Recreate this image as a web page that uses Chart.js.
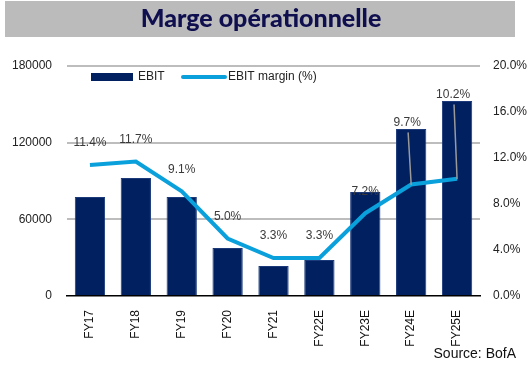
<!DOCTYPE html>
<html>
<head>
<meta charset="utf-8">
<script src="https://cdn.jsdelivr.net/npm/chart.js@4.4.0/dist/chart.umd.min.js"></script>
<style>
  html, body { margin: 0; padding: 0; background: #fff; }
  #wrap { width: 530px; height: 367px; position: relative; }
</style>
</head>
<body>
<div id="wrap"><canvas id="chart"></canvas></div>
<script>
const categories = ['FY17', 'FY18', 'FY19', 'FY20', 'FY21', 'FY22E', 'FY23E', 'FY24E', 'FY25E'];
const ebit = [77500, 92300, 77500, 37600, 23500, 28200, 81400, 130700, 152600];
const ebitMargin = [11.4, 11.7, 9.1, 5.0, 3.3, 3.3, 7.2, 9.7, 10.2];
const leftTicks = [0, 60000, 120000, 180000];
const rightTicks = [0, 4, 8, 12, 16, 20];

const NAVY = '#002060';
const CYAN = '#0aa0dc';

// title band, legend, data labels and source
const decorations = {
  id: 'decorations',
  beforeDraw(chart) {
    const ctx = chart.ctx;
    ctx.save();
    ctx.fillStyle = '#bbbbbb';
    ctx.fillRect(5, 1, 510, 36);
    ctx.fillStyle = '#0f0f4f';
    ctx.font = '900 25px Lato';
    ctx.textAlign = 'center';
    ctx.textBaseline = 'middle';
    ctx.fillText('Marge opérationnelle', 261, 19);
    ctx.restore();
  },
  afterDraw(chart) {
    const ctx = chart.ctx;
    ctx.save();

    // legend
    ctx.fillStyle = NAVY;
    ctx.fillRect(91, 73, 42, 8);
    ctx.strokeStyle = CYAN;
    ctx.lineWidth = 4;
    ctx.lineCap = 'round';
    ctx.beginPath();
    ctx.moveTo(183, 77);
    ctx.lineTo(225, 77);
    ctx.stroke();
    ctx.fillStyle = '#222';
    ctx.font = '12px "Liberation Sans"';
    ctx.textBaseline = 'middle';
    ctx.textAlign = 'left';
    ctx.fillText('EBIT', 138, 77);
    ctx.fillText('EBIT margin (%)', 228, 77);

    // data labels
    const barMeta = chart.getDatasetMeta(0);
    const lineMeta = chart.getDatasetMeta(1);
    ctx.textAlign = 'center';
    ctx.fillStyle = '#3a3a3a';
    lineMeta.data.forEach((pt, i) => {
      const barTop = barMeta.data[i].y;
      let ly = pt.y - 22;
      if (ly > barTop + 4) {
        ly = barTop - 6;
        ctx.strokeStyle = '#9a9a9a';
        ctx.lineWidth = 1.5;
        ctx.beginPath();
        ctx.moveTo(pt.x - 3, ly + 10);
        ctx.lineTo(pt.x, pt.y);
        ctx.stroke();
        ctx.fillText(ebitMargin[i].toFixed(1) + '%', pt.x - 4, ly);
      } else {
        ctx.fillText(ebitMargin[i].toFixed(1) + '%', pt.x, ly);
      }
    });

    // source
    ctx.fillStyle = '#111';
    ctx.font = '14px "Liberation Sans Narrow", "Liberation Sans"';
    ctx.textAlign = 'right';
    ctx.fillText('Source: BofA', 516, 354);
    ctx.restore();
  }
};

new Chart(document.getElementById('chart'), {
  data: {
    labels: categories,
    datasets: [
      {
        type: 'bar',
        label: 'EBIT',
        data: ebit,
        yAxisID: 'y',
        backgroundColor: NAVY,
        borderColor: '#1c3a7a',
        borderWidth: 1,
        barPercentage: 0.66,
        categoryPercentage: 1,
        order: 2
      },
      {
        type: 'line',
        label: 'EBIT margin (%)',
        data: ebitMargin,
        yAxisID: 'y1',
        borderColor: CYAN,
        borderWidth: 4,
        pointRadius: 0,
        tension: 0,
        fill: false,
        order: 1
      }
    ]
  },
  options: {
    responsive: true,
    maintainAspectRatio: false,
    animation: false,
    layout: { padding: { top: 66, left: 0, right: 0, bottom: 0 } },
    plugins: {
      legend: { display: false },
      tooltip: { enabled: false }
    },
    scales: {
      x: {
        grid: { display: false },
        border: { color: '#000', width: 1.5 },
        ticks: {
          color: '#111',
          font: { family: '"Liberation Sans Narrow", "Liberation Sans"', size: 12 },
          minRotation: 90,
          maxRotation: 90,
          padding: 6
        },
        afterFit: (s) => { s.height = 71; }
      },
      y: {
        position: 'left',
        min: 0,
        max: 180000,
        afterBuildTicks: (s) => { s.ticks = leftTicks.map(v => ({ value: v })); },
        border: { display: false },
        grid: {
          drawTicks: false,
          lineWidth: 2,
          color: (c) => c.tick && c.tick.value === 0 ? 'rgba(0,0,0,0)' : '#bdbdbd'
        },
        ticks: {
          color: '#222',
          padding: 15,
          font: { family: '"Liberation Sans"', size: 12 },
          callback: (v) => String(v)
        },
        afterFit: (s) => { s.width = 67; }
      },
      y1: {
        position: 'right',
        min: 0,
        max: 20,
        afterBuildTicks: (s) => { s.ticks = rightTicks.map(v => ({ value: v })); },
        border: { display: false },
        grid: { display: false, drawTicks: false },
        ticks: {
          color: '#222',
          padding: 13,
          font: { family: '"Liberation Sans"', size: 12 },
          callback: (v) => v.toFixed(1) + '%'
        },
        afterFit: (s) => { s.width = 50; }
      }
    }
  },
  plugins: [decorations]
});
</script>
</body>
</html>
